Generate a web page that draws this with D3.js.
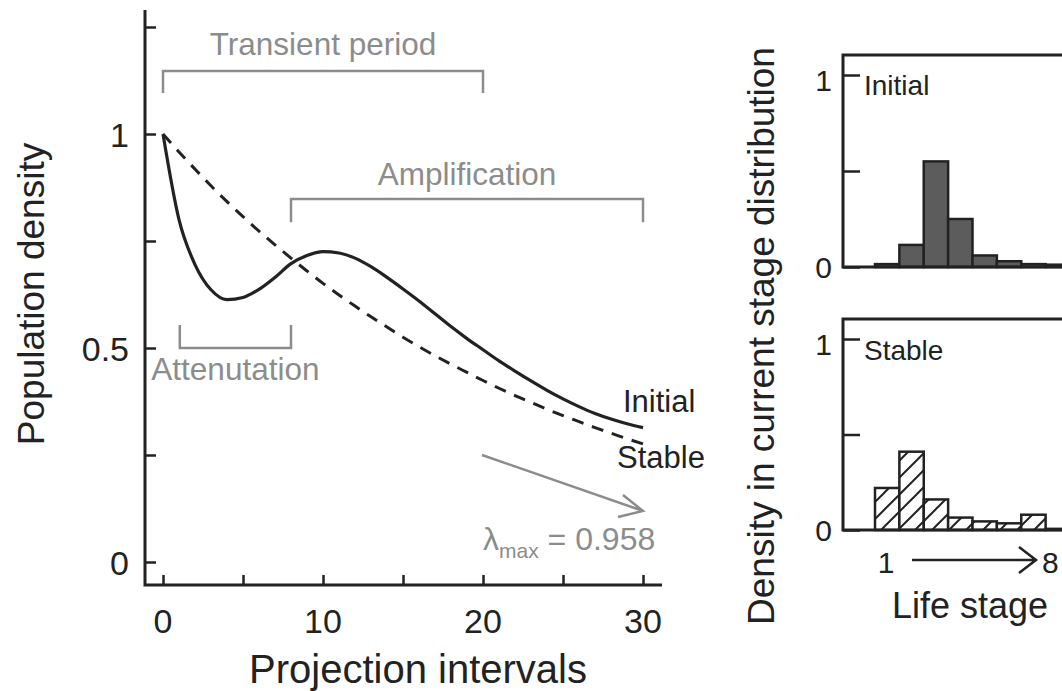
<!DOCTYPE html>
<html>
<head>
<meta charset="utf-8">
<script src="https://cdn.jsdelivr.net/npm/d3@7"></script>
<style>
  body { margin: 0; background: #fff; }
  svg { display: block; font-family: "Liberation Sans", Arial, Helvetica, sans-serif; }
</style>
</head>
<body>
<div id="chart"></div>
<script>
// projection intervals and the two population curves
const intervals = d3.range(0, 31)
const initialDensity = [1.0, 0.80, 0.695, 0.636, 0.613, 0.618, 0.637, 0.665, 0.697, 0.716,
  0.725, 0.722, 0.71, 0.69, 0.665, 0.638, 0.61, 0.58, 0.55, 0.522,
  0.496, 0.47, 0.446, 0.423, 0.401, 0.381, 0.363, 0.347, 0.334, 0.323, 0.314]
const stableDensity = [1.0, 0.958, 0.918, 0.879, 0.842, 0.807, 0.773, 0.741, 0.71, 0.68,
  0.651, 0.624, 0.598, 0.573, 0.549, 0.525, 0.503, 0.482, 0.462, 0.443,
  0.424, 0.406, 0.389, 0.373, 0.357, 0.342, 0.328, 0.314, 0.301, 0.288, 0.276]

const xTicks = [0, 5, 10, 15, 20, 25, 30]
const xTickLabels = [0, 10, 20, 30]
const yTicks = [0, 0.25, 0.5, 0.75, 1, 1.25]
const yTickLabels = [0, 0.5, 1]

// life-stage distributions
const stages = [1, 2, 3, 4, 5, 6, 7, 8]
const initialDist = [0.015, 0.115, 0.55, 0.25, 0.06, 0.03, 0.015, 0.012]
const stableDist = [0.22, 0.41, 0.16, 0.065, 0.045, 0.035, 0.08, 0.006]
const histTicks = [0, 0.5, 1]
const histTickLabels = [0, 1]

const W = 1062, H = 691
const grey = '#8c8c8c'
const ink = '#222'

const svg = d3.select('#chart').append('svg')
  .attr('width', W)
  .attr('height', H)

const defs = svg.append('defs')
const hatch = defs.append('pattern')
  .attr('id', 'hatch')
  .attr('patternUnits', 'userSpaceOnUse')
  .attr('width', 17).attr('height', 17)
hatch.append('rect').attr('width', 17).attr('height', 17).attr('fill', '#fff')
hatch.append('path')
  .attr('d', 'M-2,19 L19,-2 M-5,5 L5,-5 M12,22 L22,12')
  .attr('stroke', ink).attr('stroke-width', 2)

// ---- main panel ----
const x = d3.scaleLinear().domain([0, 30]).range([163, 643])
const y = d3.scaleLinear().domain([0, 1]).range([562, 134])
const axisX = 145, axisY = 585

const main = svg.append('g')

main.append('g')
  .attr('transform', `translate(${axisX},0)`)
  .call(d3.axisRight(y).tickValues(yTicks).tickSize(11).tickFormat(''))
  .call(g => g.select('.domain').remove())
  .call(g => g.selectAll('line').attr('stroke', ink).attr('stroke-width', 2.5))

main.append('g')
  .attr('transform', `translate(0,${axisY})`)
  .call(d3.axisTop(x).tickValues(xTicks).tickSize(10).tickFormat(''))
  .call(g => g.select('.domain').remove())
  .call(g => g.selectAll('line').attr('stroke', ink).attr('stroke-width', 2.5))

main.append('path')
  .attr('d', `M${axisX},10 V${axisY} H662`)
  .attr('fill', 'none').attr('stroke', ink).attr('stroke-width', 3)

main.selectAll('.ylab').data(yTickLabels).enter().append('text')
  .attr('x', 129).attr('y', d => y(d) + 13)
  .attr('text-anchor', 'end').attr('font-size', 34).attr('fill', ink)
  .text(d => d)

main.selectAll('.xlab').data(xTickLabels).enter().append('text')
  .attr('x', d => x(d)).attr('y', 633)
  .attr('text-anchor', 'middle').attr('font-size', 34).attr('fill', ink)
  .text(d => d)

main.append('text')
  .attr('x', 418).attr('y', 683)
  .attr('text-anchor', 'middle').attr('font-size', 40).attr('fill', ink)
  .text('Projection intervals')

main.append('text')
  .attr('transform', 'translate(44,294) rotate(-90)')
  .attr('text-anchor', 'middle').attr('font-size', 37).attr('fill', ink)
  .text('Population density')

const line = d3.line().x((d, i) => x(intervals[i])).y(d => y(d)).curve(d3.curveMonotoneX)

main.append('path')
  .attr('d', line(stableDensity))
  .attr('fill', 'none').attr('stroke', ink).attr('stroke-width', 3)
  .attr('stroke-dasharray', '12,9')

main.append('path')
  .attr('d', line(initialDensity))
  .attr('fill', 'none').attr('stroke', ink).attr('stroke-width', 3.2)

// brackets: [t0, t1, y of bar, y of ends, label, label baseline]
const brackets = [
  [0, 20, 1.147, 1.096, 'Transient period', 55],
  [8, 30, 0.848, 0.794, 'Amplification', 185],
  [1.05, 8, 0.5, 0.554, 'Attenutation', 380]
]
brackets.forEach(b => {
  main.append('path')
    .attr('d', `M${x(b[0])},${y(b[3])} V${y(b[2])} H${x(b[1])} V${y(b[3])}`)
    .attr('fill', 'none').attr('stroke', grey).attr('stroke-width', 2.5)
  main.append('text')
    .attr('x', (x(b[0]) + x(b[1])) / 2).attr('y', b[5])
    .attr('text-anchor', 'middle').attr('font-size', 31.5).attr('fill', grey)
    .text(b[4])
})

main.append('text').attr('x', 623).attr('y', 412)
  .attr('font-size', 31).attr('fill', ink).text('Initial')
main.append('text').attr('x', 617).attr('y', 468)
  .attr('font-size', 31).attr('fill', ink).text('Stable')

// decay arrow
main.append('path')
  .attr('d', 'M482,455 L643,511 M623,495 L643,511 L618,517')
  .attr('fill', 'none').attr('stroke', grey).attr('stroke-width', 2.5)

const lam = main.append('text').attr('x', 483).attr('y', 550)
  .attr('font-size', 32).attr('fill', grey)
lam.append('tspan').text('λ')
lam.append('tspan').attr('font-size', 21).attr('dy', 8).text('max')
lam.append('tspan').attr('dy', -8).text(' = 0.958')

// ---- histograms ----
const xs = d3.scaleBand().domain(stages).range([875, 1070]).padding(0)
const boxLeft = 843

function histogram (top, base, one, values, fill, label, labelY) {
  const hy = d3.scaleLinear().domain([0, 1]).range([base, one])
  const g = svg.append('g')

  g.selectAll('rect.bar').data(values).enter().append('rect')
    .attr('class', 'bar')
    .attr('x', (d, i) => xs(stages[i]))
    .attr('y', d => hy(d))
    .attr('width', xs.bandwidth())
    .attr('height', d => base - hy(d))
    .attr('fill', fill)
    .attr('stroke', ink).attr('stroke-width', 2.5)

  g.append('g')
    .attr('transform', `translate(${boxLeft},0)`)
    .call(d3.axisRight(hy).tickValues(histTicks).tickSize(17).tickFormat(''))
    .call(s => s.select('.domain').remove())
    .call(s => s.selectAll('line').attr('stroke', ink).attr('stroke-width', 2.5))

  g.append('rect')
    .attr('x', boxLeft).attr('y', top)
    .attr('width', 260).attr('height', base - top)
    .attr('fill', 'none').attr('stroke', ink).attr('stroke-width', 3)

  g.selectAll('text.tl').data(histTickLabels).enter().append('text')
    .attr('x', 832).attr('y', d => hy(d) + (d === 1 ? 16 : 11))
    .attr('text-anchor', 'end').attr('font-size', 30).attr('fill', ink)
    .text(d => d)

  g.append('text').attr('x', 864).attr('y', labelY)
    .attr('font-size', 28).attr('fill', ink).text(label)
}

histogram(55, 267, 75, initialDist, '#5c5c5c', 'Initial', 95)
histogram(319, 530, 339, stableDist, 'url(#hatch)', 'Stable', 360)

svg.append('text').attr('x', 886).attr('y', 573)
  .attr('text-anchor', 'middle').attr('font-size', 30).attr('fill', ink).text(stages[0])
svg.append('path')
  .attr('d', 'M912,560 H1035 M1019,547 L1036,560 L1019,573')
  .attr('fill', 'none').attr('stroke', ink).attr('stroke-width', 2.5)
svg.append('text').attr('x', 1042).attr('y', 573)
  .attr('font-size', 30).attr('fill', ink).text(stages[stages.length - 1])

svg.append('text').attr('x', 970).attr('y', 618)
  .attr('text-anchor', 'middle').attr('font-size', 36).attr('fill', ink)
  .text('Life stage')

svg.append('text')
  .attr('transform', 'translate(774,336) rotate(-90)')
  .attr('text-anchor', 'middle').attr('font-size', 37).attr('fill', ink)
  .text('Density in current stage distribution')
</script>
</body>
</html>
